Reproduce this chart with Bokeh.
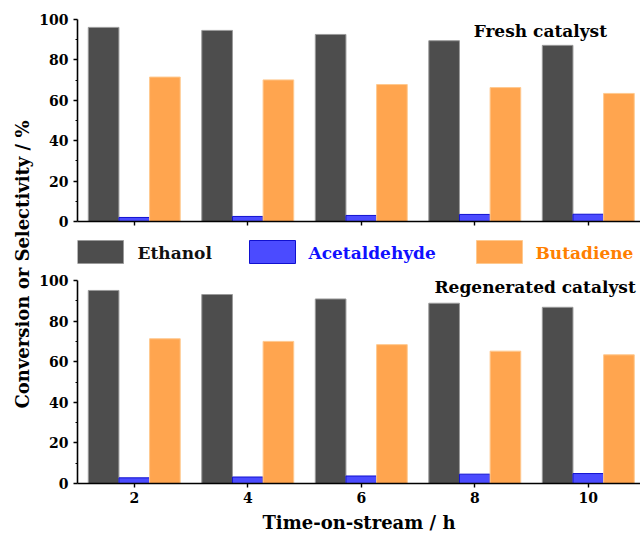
import math
from bokeh.plotting import figure
from bokeh.layouts import row, column
from bokeh.models import Range1d, FixedTicker, Label, ColumnDataSource
from bokeh.core.properties import value
from bokeh.embed import file_html
from bokeh.resources import INLINE

# Time-on-stream (h)
time_h = [2, 4, 6, 8, 10]

# Fresh catalyst (%)
fresh_ethanol = [96.1, 94.6, 92.6, 89.5, 87.2]
fresh_acetaldehyde = [2.0, 2.5, 3.0, 3.5, 3.6]
fresh_butadiene = [71.5, 70.1, 67.8, 66.3, 63.4]

# Regenerated catalyst (%)
regen_ethanol = [95.1, 93.1, 90.9, 88.8, 86.8]
regen_acetaldehyde = [2.8, 3.2, 3.7, 4.6, 4.9]
regen_butadiene = [71.3, 70.0, 68.4, 65.2, 63.4]

series_names = ["Ethanol", "Acetaldehyde", "Butadiene"]
y_ticks = [0, 20, 40, 60, 80, 100]
y_minor = [10, 30, 50, 70, 90]

FONT = "DejaVu Serif"
FILL = ["#4d4d4d", "#4b4bff", "#ffa54f"]
EDGE = ["#9a9a9a", "#1010d0", "#ffc98f"]
TEXT_COL = ["#111111", "#1010ff", "#ff7f00"]
BAR_W = 0.54
OFFSETS = [-BAR_W, 0.0, BAR_W]

LABEL_W = 36
PANEL_W = 640 - LABEL_W
FRAME_LEFT = 77


def style_axes(p, show_x_labels):
    p.outline_line_color = None
    p.xgrid.visible = False
    p.ygrid.visible = False
    for ax in (p.xaxis[0], p.yaxis[0]):
        ax.axis_line_width = 1.6
        ax.axis_line_color = "black"
        ax.major_tick_line_width = 1.4
        ax.minor_tick_line_width = 1.2
        ax.major_tick_in = 0
        ax.major_tick_out = 4
        ax.minor_tick_in = 0
        ax.major_label_text_font = FONT
        ax.major_label_text_font_style = "bold"
        ax.major_label_text_font_size = "14px"
        ax.major_label_text_color = "black"
    yax = p.yaxis[0]
    yax.ticker = FixedTicker(ticks=y_ticks, minor_ticks=y_minor)
    yax.minor_tick_out = 2
    yax.major_label_standoff = 5
    xax = p.xaxis[0]
    xax.ticker = FixedTicker(ticks=time_h, minor_ticks=[])
    xax.minor_tick_out = 0
    if not show_x_labels:
        # tick marks only on the upper panel
        xax.major_label_overrides = {t: "" for t in time_h}
        xax.major_label_text_font_size = "1px"
        xax.major_label_standoff = 0
    else:
        xax.major_label_standoff = 4


def panel(values, height, border_top, border_bottom, caption, cap_x, cap_y, show_x_labels):
    p = figure(width=PANEL_W, height=height, output_backend="svg",
               toolbar_location=None, x_range=Range1d(1.0, 10.92),
               y_range=Range1d(0, 100), min_border_left=FRAME_LEFT - LABEL_W,
               min_border_right=0, min_border_top=border_top,
               min_border_bottom=border_bottom)
    for vals, off, fc, ec in zip(values, OFFSETS, FILL, EDGE):
        src = ColumnDataSource(dict(x=[t + off for t in time_h], top=vals))
        p.vbar(x="x", top="top", bottom=0, width=BAR_W, source=src,
               fill_color=fc, line_color=ec, line_width=1)
    style_axes(p, show_x_labels)
    p.add_layout(Label(x=cap_x, y=cap_y, text=caption, text_font=FONT,
                       text_font_style="bold", text_font_size="17px",
                       text_color="black", text_baseline="middle"))
    return p


top = panel([fresh_ethanol, fresh_acetaldehyde, fresh_butadiene], 232, 19, 11,
            "Fresh catalyst", 7.98, 94.3, False)

bottom = panel([regen_ethanol, regen_acetaldehyde, regen_butadiene], 266, 10, 53,
               "Regenerated catalyst", 7.29, 96.7, True)
bx = bottom.xaxis[0]
bx.axis_label = "Time-on-stream / h"
bx.axis_label_text_font = FONT
bx.axis_label_text_font_style = "bold"
bx.axis_label_text_font_size = "18px"
bx.axis_label_text_color = "black"
bx.axis_label_standoff = 6

# Legend strip between the panels (x in page pixels, y in strip pixels downward)
leg = figure(width=PANEL_W, height=38, output_backend="svg", toolbar_location=None,
             x_range=Range1d(FRAME_LEFT, 640), y_range=Range1d(38, 0),
             min_border_left=FRAME_LEFT - LABEL_W, min_border_right=0,
             min_border_top=0, min_border_bottom=0)
leg.axis.visible = False
leg.grid.visible = False
leg.outline_line_color = None
box_left = [77, 249, 476]
text_left = [137, 308, 535]
for name, bxl, tx, fc, ec, tc in zip(series_names, box_left, text_left, FILL, EDGE, TEXT_COL):
    leg.quad(left=bxl, right=bxl + 46, top=8, bottom=31, fill_color=fc, line_color=ec, line_width=1)
    leg.text(x=[tx], y=[20], text=[name], text_font=value(FONT), text_font_style="bold",
             text_font_size="17px", text_color=tc, text_baseline="middle")

# Shared y-axis title
lab = figure(width=LABEL_W, height=536, output_backend="svg", toolbar_location=None,
             x_range=Range1d(0, LABEL_W), y_range=Range1d(0, 536), min_border=0)
lab.axis.visible = False
lab.grid.visible = False
lab.outline_line_color = None
lab.text(x=[22], y=[536 - 264], text=["Conversion or Selectivity / %"], angle=math.pi / 2,
         text_font=value(FONT), text_font_style="bold", text_font_size="18px",
         text_color="black", text_align="center", text_baseline="middle")

layout = row(lab, column(top, leg, bottom, spacing=0), spacing=0)
open("out.html", "w").write(file_html(layout, INLINE))
